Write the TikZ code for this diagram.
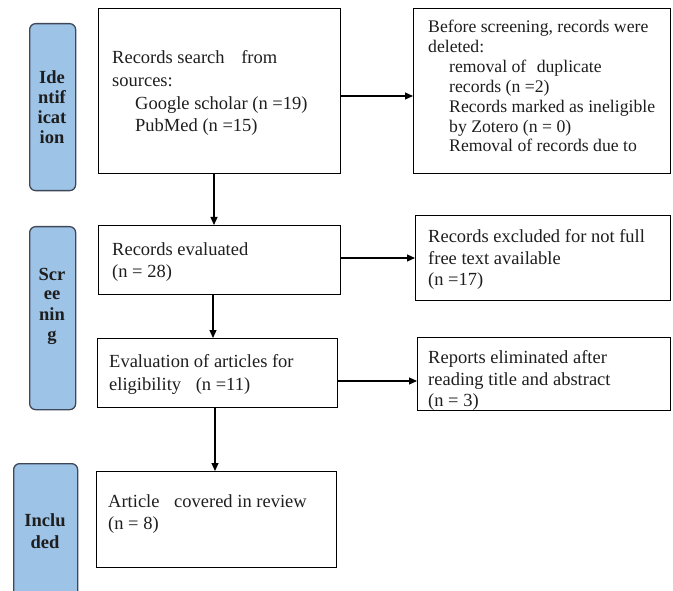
\documentclass[tikz,border=0pt]{standalone}
\usepackage{fontspec}
\setmainfont{Liberation Serif}
\newfontfamily\tnr{Liberation Serif}
\usetikzlibrary{arrows.meta}
\definecolor{tabfill}{RGB}{157,195,230}
\definecolor{tabdraw}{RGB}{62,72,88}
\definecolor{txt}{RGB}{30,30,30}
\tikzset{
  box/.style={draw=black, line width=1.2pt, rectangle, inner sep=0pt, anchor=north west},
  tab/.style={draw=tabdraw, fill=tabfill, line width=1.3pt, rounded corners=6pt, rectangle, inner sep=0pt, anchor=north west},
  ln/.style={anchor=base west, inner sep=0pt, text=txt, font=\tnr\fontsize{18.5}{20}\selectfont},
  lnr/.style={anchor=base west, inner sep=0pt, text=txt, font=\tnr\fontsize{17.7}{20}\selectfont},
  tl/.style={anchor=base, inner sep=0pt, text=txt, font=\tnr\bfseries\fontsize{18.5}{20}\selectfont},
  arr/.style={line width=1.1pt, -{Triangle[length=8pt,width=7pt]}}
}
\begin{document}
\begin{tikzpicture}[x=1pt,y=-1pt]
\useasboundingbox (0,0) rectangle (673,591);
\clip (0,0) rectangle (673,591);
% stage tabs
\node[tab, minimum width=46pt, minimum height=167pt] (tabI) at (29,23) {};
\node[tab, minimum width=46pt, minimum height=183pt] (tabS) at (29,226) {};
\node[tab, minimum width=64pt, minimum height=140pt] (tabC) at (13,463) {};
\node[tl] (tI1) at (52,84) {Ide};
\node[tl] (tI2) at (52,104) {ntif};
\node[tl] (tI3) at (52,124) {icat};
\node[tl] (tI4) at (52,144) {ion};
\node[tl] (tS1) at (52,280) {Scr};
\node[tl] (tS2) at (52,300) {ee};
\node[tl] (tS3) at (52,320) {nin};
\node[tl] (tS4) at (52,340) {g};
\node[tl] (tC1) at (45,526) {Inclu};
\node[tl] (tC2) at (45,548) {ded};
% main boxes
\node[box, minimum width=242pt, minimum height=165pt] (b1) at (98,8) {};
\node[box, minimum width=242pt, minimum height=69pt] (b2) at (98,225) {};
\node[box, minimum width=240pt, minimum height=69pt] (b3) at (97,338) {};
\node[box, minimum width=240pt, minimum height=96pt] (b4) at (96,471) {};
% right boxes
\node[box, minimum width=257pt, minimum height=165pt] (r1) at (413,8) {};
\node[box, minimum width=255pt, minimum height=85pt] (r2) at (415,215) {};
\node[box, minimum width=253pt, minimum height=73pt] (r3) at (417,337) {};
% texts
\node[ln] (b1t1) at (112,64) {Records search\hspace{12pt} from};
\node[ln] (b1t2) at (112,87) {sources:};
\node[ln] (b1t3) at (135,110) {Google scholar (n =19)};
\node[ln] (b1t4) at (135,132) {PubMed (n =15)};
\node[ln] (b2t1) at (112,255) {Records evaluated};
\node[ln] (b2t2) at (112,278) {(n = 28)};
\node[ln] (b3t1) at (109,367) {Evaluation of articles for};
\node[ln] (b3t2) at (109,390) {eligibility\hspace{10pt} (n =11)};
\node[ln] (b4t1) at (108,507) {Article\hspace{10pt} covered in review};
\node[ln] (b4t2) at (108,529) {(n = 8)};
\node[lnr] (r1t1) at (428,33) {Before screening, records were};
\node[lnr] (r1t2) at (428,53) {deleted:};
\node[lnr] (r1t3) at (449,73) {removal of\hspace{6pt} duplicate};
\node[lnr] (r1t4) at (449,93) {records (n =2)};
\node[lnr] (r1t5) at (449,113) {Records marked as ineligible};
\node[lnr] (r1t6) at (449,133) {by Zotero (n = 0)};
\node[lnr] (r1t7) at (449,152) {Removal of records due to};
\node[ln] (r2t1) at (428,243) {Records excluded for not full};
\node[ln] (r2t2) at (428,265) {free text available};
\node[ln] (r2t3) at (428,286) {(n =17)};
\node[ln] (r3t1) at (428,363) {Reports eliminated after};
\node[ln] (r3t2) at (428,385) {reading title and abstract};
\node[ln] (r3t3) at (428,406) {(n = 3)};
% connector helpers
\coordinate (h1) at (0,96);
\coordinate (h2) at (0,258);
\coordinate (h3) at (0,381);
\coordinate (v1) at (214,0);
\coordinate (v2) at (213,0);
\coordinate (v3) at (215,0);
% connectors
\draw[arr] (b1.east |- h1) -- (r1.west |- h1);
\draw[arr] (b2.east |- h2) -- (r2.west |- h2);
\draw[arr] (b3.east |- h3) -- (r3.west |- h3);
\draw[arr] (v1 |- b1.south) -- (v1 |- b2.north);
\draw[arr] (v2 |- b2.south) -- (v2 |- b3.north);
\draw[arr] (v3 |- b3.south) -- (v3 |- b4.north);
\end{tikzpicture}
\end{document}
